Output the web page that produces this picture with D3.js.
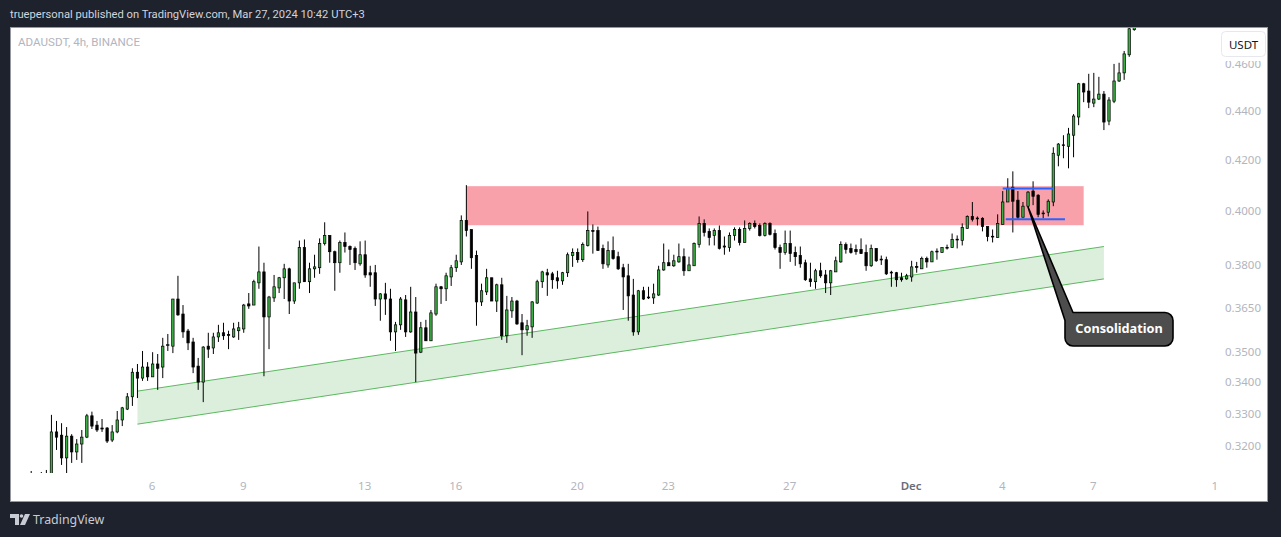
<!DOCTYPE html>
<html><head><meta charset="utf-8">
<script src="https://cdn.jsdelivr.net/npm/d3@7"></script>
<style>html,body{margin:0;padding:0;background:#1e222d;overflow:hidden}svg{display:block}text{font-family:"Noto Sans",sans-serif}</style>
</head><body><svg id="c" width="1281" height="537"></svg>
<script>
// prices in units of 0.0001 USDT
const opens=[3095,3090,3085,3090,3096,3240,3230,3161,3227,3179,
3203,3224,3290,3261,3252,3252,3215,3240,3277,3311,
3350,3429,3410,3446,3414,3456,3446,3517,3515,3676,
3624,3566,3529,3449,3397,3515,3509,3546,3560,3554,
3546,3567,3573,3659,3655,3733,3772,3614,3680,3715,
3751,3783,3669,3733,3860,3737,3783,3787,3875,3905,
3845,3805,3879,3864,3857,3801,3834,3769,3769,3676,
3694,3676,3563,3587,3673,3563,3631,3495,3577,3533,
3624,3719,3712,3754,3787,3808,3961,3927,3831,3666,
3701,3751,3669,3726,3550,3635,3669,3594,3570,3580,
3662,3737,3769,3765,3751,3740,3769,3831,3842,3816,
3868,3923,3923,3857,3797,3849,3827,3787,3758,3690,
3563,3705,3683,3680,3690,3779,3805,3794,3808,3827,
3776,3794,3871,3950,3920,3905,3923,3866,3860,3905,
3927,3879,3931,3950,3942,3905,3950,3912,3860,3842,
3875,3842,3831,3805,3747,3737,3776,3761,3733,3772,
3808,3871,3857,3853,3853,3842,3794,3857,3818,3816,
3771,3769,3751,3747,3754,3791,3783,3820,3808,3847,
3842,3861,3860,3891,3886,3931,3976,3970,3969,3938,
3902,3897,3946,4031,4088,4038,3973,4015,4073,4057,
3989,3992,4031,4214,4256,4250,4295,4370,4510,4479,
4428,4445,4466,4353,4436,4522,4557,4636,4748];
const closes=[3090,3085,3090,3098,3240,3224,3161,3227,3179,3203,
3224,3290,3258,3246,3249,3212,3240,3277,3315,3350,
3429,3410,3446,3414,3456,3442,3515,3520,3676,3621,
3563,3526,3446,3397,3512,3505,3546,3560,3550,3551,
3573,3577,3655,3652,3737,3772,3614,3683,3719,3751,
3783,3669,3733,3860,3737,3783,3790,3875,3905,3845,
3805,3879,3864,3853,3805,3834,3761,3761,3676,3694,
3676,3563,3587,3676,3563,3631,3492,3577,3533,3628,
3719,3712,3758,3787,3812,3961,3923,3823,3666,3705,
3751,3669,3726,3550,3638,3669,3590,3570,3584,3666,
3737,3772,3761,3744,3740,3769,3834,3842,3816,3871,
3923,3920,3849,3801,3849,3820,3783,3754,3687,3563,
3705,3676,3680,3694,3779,3805,3794,3812,3827,3776,
3797,3875,3950,3916,3897,3923,3857,3862,3905,3927,
3879,3931,3950,3938,3905,3950,3909,3860,3842,3875,
3838,3827,3801,3744,3737,3776,3758,3733,3776,3812,
3871,3853,3842,3845,3838,3794,3857,3812,3815,3765,
3768,3744,3744,3758,3790,3788,3820,3808,3845,3844,
3860,3859,3890,3889,3935,3976,3965,3968,3938,3901,
3900,3950,4031,4084,4034,3973,4015,4069,4053,3984,
3986,4034,4222,4259,4253,4300,4374,4510,4475,4432,
4445,4466,4349,4441,4522,4557,4640,4752,4770];
const highs=[3122,3100,3119,3125,3293,3274,3267,3255,3233,3218,
3246,3296,3303,3274,3280,3255,3261,3305,3318,3362,
3442,3456,3499,3462,3495,3489,3543,3556,3676,3758,
3655,3573,3543,3476,3515,3560,3560,3587,3594,3567,
3594,3597,3659,3697,3744,3864,3805,3687,3761,3754,
3801,3787,3733,3886,3890,3805,3834,3894,3954,3905,
3849,3886,3916,3868,3864,3883,3886,3794,3797,3697,
3733,3712,3597,3683,3690,3719,3683,3597,3604,3638,
3730,3722,3769,3797,3834,3980,4096,3927,3849,3730,
3783,3751,3730,3751,3687,3683,3673,3624,3604,3669,
3744,3776,3783,3772,3776,3772,3842,3857,3857,3879,
3995,3946,3938,3871,3883,3901,3845,3801,3801,3747,
3708,3719,3719,3730,3794,3875,3853,3834,3875,3857,
3827,3879,3976,3965,3931,3931,3942,3901,3916,3935,
3935,3961,3954,3961,3950,3954,3954,3927,3871,3923,
3923,3864,3864,3816,3805,3783,3805,3779,3779,3827,
3883,3879,3875,3871,3894,3871,3871,3857,3831,3827,
3776,3772,3769,3765,3812,3808,3827,3827,3849,3857,
3860,3871,3912,3905,3950,3980,4031,3976,3973,3938,
3927,3984,4073,4123,4150,4073,4031,4073,4111,4061,
3999,4041,4246,4263,4295,4325,4382,4514,4514,4553,
4557,4540,4479,4453,4596,4601,4653,4761,4790];
const lows=[3085,3075,3075,3085,3085,3185,3140,3116,3146,3155,
3146,3221,3249,3240,3240,3206,3209,3236,3258,3308,
3321,3346,3401,3401,3414,3372,3410,3499,3492,3618,
3543,3502,3426,3372,3333,3476,3489,3529,3536,3505,
3543,3536,3560,3642,3655,3712,3416,3505,3666,3697,
3676,3624,3659,3712,3737,3697,3751,3765,3868,3805,
3705,3769,3842,3797,3779,3794,3751,3719,3652,3601,
3621,3533,3499,3570,3546,3560,3397,3492,3533,3533,
3618,3659,3669,3722,3772,3797,3901,3783,3584,3652,
3690,3669,3631,3536,3526,3611,3587,3485,3550,3543,
3659,3715,3687,3712,3712,3726,3754,3790,3805,3808,
3864,3838,3849,3783,3787,3816,3779,3638,3601,3550,
3553,3673,3676,3659,3687,3776,3794,3790,3805,3758,
3776,3794,3860,3901,3868,3868,3853,3834,3845,3886,
3868,3879,3923,3931,3901,3901,3905,3853,3783,3834,
3808,3794,3787,3740,3719,3712,3751,3697,3690,3772,
3805,3838,3838,3834,3838,3776,3790,3808,3797,3761,
3719,3719,3737,3744,3737,3769,3783,3787,3808,3816,
3842,3853,3860,3857,3868,3931,3957,3942,3920,3883,
3879,3897,3946,4031,3916,3965,3973,4011,4019,3973,
3969,3976,4015,4170,4202,4162,4206,4336,4432,4407,
4411,4441,4316,4336,4428,4518,4527,4627,4743];

const priceTicks=[4600,4400,4200,4000,3800,3650,3500,3400,3300,3200];
const priceLabels=["0.4600","0.4400","0.4200","0.4000","0.3800","0.3650","0.3500","0.3400","0.3300","0.3200"];
const timeTicks=[24,42,66,84,108,126,150,174,192,210,234];
const timeLabels=["6","9","13","16","20","23","27","Dec","4","7","1"];

// drawings, in bar index / price
const supplyZone={i0:86,i1:208,top:4092,bottom:3943};
const channel={i0:21,i1:212,upper:[3368,3864],lower:[3264,3747]};
const consolidation=[{i0:192,i1:202,p:4083},{i0:192.6,i1:204.3,p:3965}];
const calloutTip={i:197,p:4012};
const title="truepersonal published on TradingView.com, Mar 27, 2024 10:42 UTC+3";

const svg=d3.select("#c");
const x=d3.scaleLinear().domain([0,234]).range([31.2,31.2+234*5.06]);
const y=d3.scaleLog().domain([3200,4600]).range([445,63]);

svg.append("rect").attr("width",1281).attr("height",537).attr("fill","#1e222d");
svg.append("rect").attr("x",10.5).attr("y",27.5).attr("width",1257).attr("height",474)
  .attr("fill","#fff").attr("stroke","#9598a1").attr("stroke-width",1);
svg.append("clipPath").attr("id","pane").append("rect").attr("x",11).attr("y",28).attr("width",1205).attr("height",445);

svg.append("text").attr("x",10).attr("y",18).attr("fill","#d1d4dc").attr("font-size",11.2).style("font-family","Roboto").text(title);
svg.append("text").attr("x",18).attr("y",46).attr("fill","#b2b5be").attr("font-size",11.6).style("font-family","Roboto").text("ADAUSDT, 4h, BINANCE");

const plot=svg.append("g").attr("clip-path","url(#pane)");

// zones
plot.append("rect").attr("x",x(supplyZone.i0)).attr("width",x(supplyZone.i1)-x(supplyZone.i0))
  .attr("y",y(supplyZone.top)).attr("height",y(supplyZone.bottom)-y(supplyZone.top)).attr("fill","#f9a1aa");
const poly=[[channel.i0,channel.upper[0]],[channel.i1,channel.upper[1]],[channel.i1,channel.lower[1]],[channel.i0,channel.lower[0]]];
plot.append("path").attr("d",d3.line().x(d=>x(d[0])).y(d=>y(d[1]))(poly)+"Z").attr("fill","#dcefdd");
[channel.upper,channel.lower].forEach(l=>plot.append("line")
  .attr("x1",x(channel.i0)).attr("x2",x(channel.i1)).attr("y1",y(l[0])).attr("y2",y(l[1]))
  .attr("stroke","#5cb860").attr("stroke-width",1));

// candles
const bars=d3.range(opens.length).map(i=>({i,o:opens[i],h:highs[i],l:lows[i],c:closes[i]}));
const g=plot.selectAll("g.bar").data(bars).join("g");
g.append("line").attr("x1",d=>x(d.i)).attr("x2",d=>x(d.i)).attr("y1",d=>y(d.h)).attr("y2",d=>y(d.l))
  .attr("stroke","#000").attr("stroke-width",1);
g.append("rect").attr("x",d=>x(d.i)-1.2).attr("width",2.4)
  .attr("y",d=>y(Math.max(d.o,d.c))).attr("height",d=>Math.max(0.8,Math.abs(y(d.o)-y(d.c))))
  .attr("fill",d=>d.c>=d.o?"#3dae45":"#000").attr("stroke","#000").attr("stroke-width",0.7);

// consolidation lines
plot.selectAll("line.blue").data(consolidation).join("line")
  .attr("x1",d=>x(d.i0)).attr("x2",d=>x(d.i1)).attr("y1",d=>y(d.p)).attr("y2",d=>y(d.p))
  .attr("stroke","#2962ff").attr("stroke-width",2);

// axes
const ax=svg.append("g").attr("transform","translate(1225,1)")
  .call(d3.axisRight(y).tickValues(priceTicks).tickSize(0).tickPadding(0).tickFormat((d,i)=>priceLabels[i]));
ax.select(".domain").remove();
ax.selectAll("text").attr("fill","#b2b5be").attr("font-size",11.5).style("font-family",'"Noto Sans",sans-serif');
const bx=svg.append("g").attr("transform","translate(-1,482)")
  .call(d3.axisBottom(x).tickValues(timeTicks).tickSize(0).tickPadding(0).tickFormat((d,i)=>timeLabels[i]));
bx.select(".domain").remove();
bx.selectAll("text").attr("fill",(d,i)=>timeLabels[i]==="Dec"?"#6a6d78":"#b2b5be").attr("font-size",11.5)
  .attr("font-weight",(d,i)=>timeLabels[i]==="Dec"?600:400).style("font-family",'"Noto Sans",sans-serif');

// USDT button
svg.append("rect").attr("x",1219).attr("y",29).attr("width",48).attr("height",32).attr("fill","#fff");
svg.append("rect").attr("x",1221.5).attr("y",31.5).attr("width",44).attr("height",25).attr("rx",4)
  .attr("fill","#fff").attr("stroke","#e6e8ee").attr("stroke-width",1);
svg.append("text").attr("x",1243.5).attr("y",49).attr("text-anchor","middle").attr("fill","#131722").attr("font-size",11.5).text("USDT");

// callout
const tx=x(calloutTip.i),ty=y(calloutTip.p);
const rx0=1065,rx1=1173,ry0=312.5,ry1=346,r=8;
const p=d3.path();
p.moveTo(rx0+8,ry0);p.lineTo(rx1-r,ry0);p.arcTo(rx1,ry0,rx1,ry0+r,r);p.lineTo(rx1,ry1-r);p.arcTo(rx1,ry1,rx1-r,ry1,r);
p.lineTo(rx0+r,ry1);p.arcTo(rx0,ry1,rx0,ry1-r,r);p.lineTo(rx0,ry0+8);p.lineTo(tx,ty);p.closePath();
svg.append("path").attr("d",p.toString()).attr("fill","#4d4d4d").attr("stroke","#000").attr("stroke-width",1.6).attr("stroke-linejoin","round");
svg.append("text").attr("x",1119).attr("y",332.5).attr("text-anchor","middle").attr("fill","#fff").attr("font-size",12.7).attr("font-weight",700).text("Consolidation");

// footer logo
const logo=svg.append("g").attr("fill","#c8cbd3");
logo.append("path").attr("d","M10 514H19V525H15V518H10Z");
logo.append("circle").attr("cx",21.5).attr("cy",516).attr("r",1.8);
logo.append("path").attr("d","M25 514H30L25 525H20Z");
svg.append("text").attr("x",33).attr("y",524).attr("fill","#c8cbd3").attr("font-size",12.4).text("TradingView");
</script></body></html>
